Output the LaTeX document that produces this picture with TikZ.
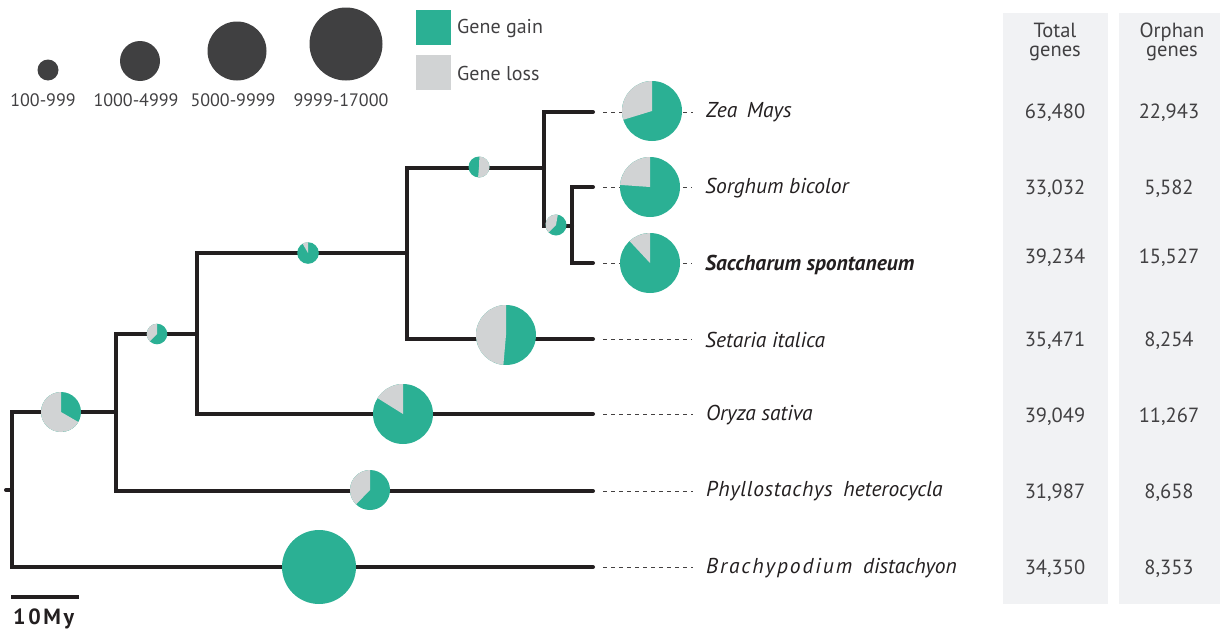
\documentclass[tikz,border=0pt]{standalone}
\usepackage{fontspec}
\setmainfont{PT Sans}
\definecolor{gain}{HTML}{2BB094}
\definecolor{loss}{HTML}{D1D3D4}
\definecolor{branch}{HTML}{231F20}
\definecolor{panel}{HTML}{F1F2F4}
\definecolor{legdot}{HTML}{404041}
\definecolor{txt}{HTML}{414042}
\newcommand\genepie[6]{% name, x, y, radius, gray start, gray end
  \coordinate (#1) at (#2,#3);
  \fill[gain] (#1) circle[radius=#4];
  \fill[loss] (#1) -- ++(#5:#4) arc[start angle=#5, end angle=#6, radius=#4] -- cycle;
}
\newcommand\gainpie[4]{% name, x, y, radius (all gain)
  \coordinate (#1) at (#2,#3);
  \fill[gain] (#1) circle[radius=#4];
}
\begin{document}
\begin{tikzpicture}[x=1pt,y=1pt,
  br/.style={line width=4pt, draw=branch, line cap=round, line join=miter},
  lead/.style={draw=branch!85, line width=0.8pt, dash pattern=on 4pt off 4pt},
  taxon/.style={anchor=west, font=\fontsize{21.5}{21.5}\selectfont\itshape, text=branch, inner sep=0pt, yshift=-1.5pt},
  num/.style={font=\fontsize{20.5}{20.5}\selectfont, text=txt, inner sep=0pt, yshift=-1pt},
  hdr/.style={font=\fontsize{20.5}{19}\selectfont, text=txt, inner sep=0pt, align=center},
  legc/.style={circle, fill=legdot, inner sep=0pt},
  legt/.style={font=\fontsize{18}{18}\selectfont, text=txt, inner sep=0pt},
  sq/.style={minimum size=35pt, inner sep=0pt},
]
\useasboundingbox (0,-632) rectangle (1220,0);

% data panels
\fill[panel] (1003,-13) rectangle (1108,-604);
\fill[panel] (1119,-13) rectangle (1220,-604);

% legend: size circles
\node[legc, minimum size=21pt] (s1) at (48,-70) {};
\node[legc, minimum size=40pt] (s2) at (140,-61) {};
\node[legc, minimum size=59pt] (s3) at (237,-51) {};
\node[legc, minimum size=73pt] (s4) at (346,-44) {};
\node[legt] (t1) at (43,-100) {100-999};
\node[legt] (t2) at (136,-100) {1000-4999};
\node[legt] (t3) at (233,-100) {5000-9999};
\node[legt] (t4) at (341,-100) {9999-17000};

% legend: gain/loss
\node[sq, fill=gain] (qg) at (433.5,-27.5) {};
\node[sq, fill=loss] (ql) at (433.5,-72.5) {};
\node[legt, anchor=west, font=\fontsize{20}{20}\selectfont] (lg) at (457,-28) {Gene gain};
\node[legt, anchor=west, font=\fontsize{20}{20}\selectfont] (ll) at (457,-73) {Gene loss};

% tree coordinates
\coordinate (stub) at (6,-490);
\coordinate (A) at (12,-490);
\coordinate (B) at (116,-412);
\coordinate (C) at (197,-334);
\coordinate (D) at (407,-253);
\coordinate (E) at (544,-168);
\coordinate (F) at (572,-226);
\coordinate (tZea) at (593,-112);
\coordinate (tSor) at (593,-187);
\coordinate (tSac) at (593,-263);
\coordinate (tSet) at (593,-339);
\coordinate (tOry) at (593,-414);
\coordinate (tPhy) at (593,-491);
\coordinate (tBra) at (593,-567);

% taxon labels
\node[taxon] (lZea) at (706,-111) {Zea\hspace{0.45em}Mays};
\node[taxon] (lSor) at (705,-187) {Sorghum bicolor};
\node[taxon, font=\fontsize{21.5}{21.5}\selectfont\bfseries\itshape] (lSac) at (705,-263) {Saccharum spontaneum};
\node[taxon] (lSet) at (705,-338) {Setaria italica};
\node[taxon] (lOry) at (706,-414) {Oryza sativa};
\node[taxon] (lPhy) at (706,-490) {{\addfontfeature{LetterSpace=3}Phyllostachys}\hspace{0.5em}heterocycla};
\node[taxon] (lBra) at (706,-567) {{\addfontfeature{LetterSpace=9}Brachypodium}\hspace{0.5em}distachyon};

% leader lines
\foreach \t/\l in {tZea/lZea, tSor/lSor, tSac/lSac, tSet/lSet, tOry/lOry, tPhy/lPhy, tBra/lBra}
  \draw[lead] ([xshift=10pt]\t) -- ([xshift=-13pt]\l.west |- \t);

% branches
\draw[br] (stub) -- (A);
\draw[br] (B) -| (A) |- (tBra);
\draw[br] (C) -| (B) |- (tPhy);
\draw[br] (D) -| (C) |- (tOry);
\draw[br] (E) -| (D) |- (tSet);
\draw[br] (tZea) -| (E) |- (F);
\draw[br] (tSor) -| (F) |- (tSac);

% pies
\gainpie{pBra}{319}{-567}{37}
\genepie{pB}{61}{-412}{20}{90}{330}
\genepie{pPhy}{370}{-490}{20}{90}{226}
\genepie{pC}{157}{-334}{10.3}{90}{225}
\genepie{pOry}{403}{-414}{30}{90}{148}
\genepie{pD}{308}{-253}{10.8}{90}{120}
\genepie{pSet}{506}{-335}{30}{90}{265}
\genepie{pE}{479}{-167}{10.5}{265}{448}
\genepie{pF}{556}{-225}{10.5}{80}{225}
\genepie{pZea}{652}{-111}{30}{90}{197}
\genepie{pSor}{650}{-187}{30}{90}{176}
\genepie{pSac}{650}{-263}{30}{90}{133}

% scale bar
\coordinate (sb1) at (11,-597);
\coordinate (sb2) at (79,-597);
\draw[line width=4pt, draw=branch] (sb1) -- (sb2);
\node[inner sep=0pt, anchor=base west, text=branch, font=\fontsize{22}{22}\selectfont\bfseries\addfontfeature{LetterSpace=12}] (sbl) at (13,-624) {10My};

% table
\node[hdr] (hT) at (1055,-42) {Total\\genes};
\node[hdr] (hO) at (1172,-42) {Orphan\\genes};
\foreach \y/\a/\b in {112/63{,}480/22{,}943, 188/33{,}032/5{,}582, 257/39{,}234/15{,}527, 340/35{,}471/8{,}254, 416/39{,}049/11{,}267, 492/31{,}987/8{,}658, 568/34{,}350/8{,}353}{
  \node[num] at (1055,-\y) {\a};
  \node[num] at (1169,-\y) {\b};
}
\end{tikzpicture}
\end{document}
